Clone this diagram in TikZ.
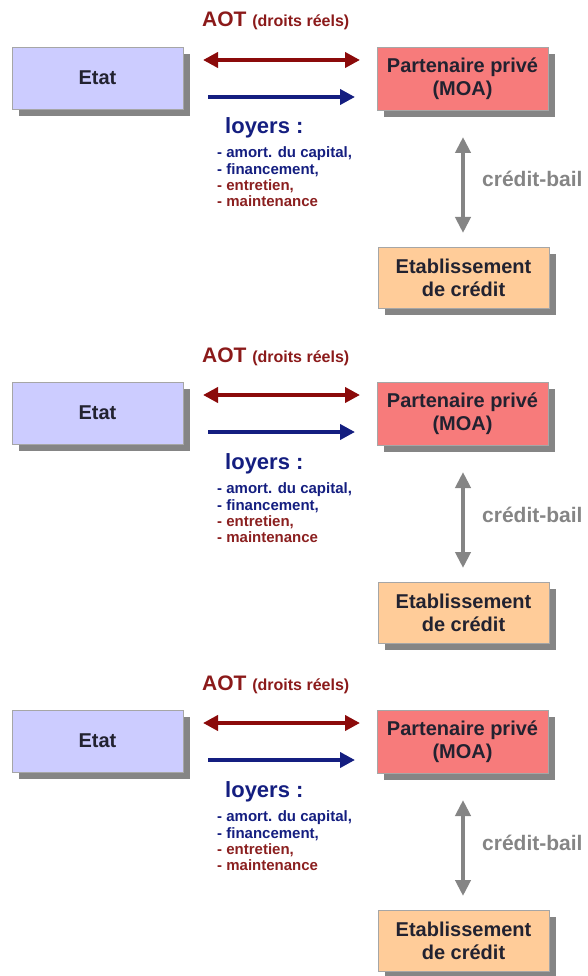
\documentclass[tikz,border=0pt]{standalone}
\usepackage{fontspec}
\setmainfont{Liberation Sans}
\usetikzlibrary{arrows.meta,shadows}
\definecolor{etatfill}{HTML}{CCCCFF}
\definecolor{partfill}{HTML}{F77B7B}
\definecolor{etabfill}{HTML}{FFCC99}
\definecolor{aotred}{HTML}{8B1A1A}
\definecolor{arrred}{HTML}{8B0A0A}
\definecolor{navyblue}{HTML}{141E80}
\definecolor{listred}{HTML}{8B2020}
\definecolor{boxtext}{HTML}{222230}
\definecolor{cbgray}{HTML}{858585}
\begin{document}
\begin{tikzpicture}[x=1pt,y=-1pt,
  box/.style={draw=black!35, line width=0.8pt, minimum width=171pt, inner sep=0pt,
    align=center, text=boxtext, font=\bfseries\fontsize{20}{23}\selectfont,
    drop shadow={shadow xshift=7pt, shadow yshift=-7pt, fill=black!48, opacity=1}},
  lbl/.style={anchor=base west, inner sep=0pt, font=\bfseries},
  redflow/.style={draw=arrred, line width=4pt,
    {Triangle[length=15pt,width=15pt]}-{Triangle[length=15pt,width=15pt]}},
  blueflow/.style={draw=navyblue, line width=4pt, -{Triangle[length=15pt,width=15pt]}},
  grayflow/.style={draw=cbgray, line width=4pt,
    {Triangle[length=16pt,width=15pt]}-{Triangle[length=16pt,width=15pt]}}]
\useasboundingbox (0,0) rectangle (588,976);
\foreach \dy/\i in {0/a,335/b,663/c}{
\begin{scope}[shift={(0,\dy)}]
  \node[box, fill=etatfill, minimum height=62pt] (etat\i) at (97.5,78) {Etat};
  \node[box, fill=partfill, minimum height=63pt] (part\i) at (462.5,78.5) {Partenaire privé\\(MOA)};
  \node[box, fill=etabfill, minimum height=61pt] (etab\i) at (463.5,277.5) {Etablissement\\de crédit};
  \node[lbl, text=aotred] (aot\i) at (202,27) {\fontsize{21}{21}\selectfont AOT \fontsize{16}{16}\selectfont(droits réels)};
  \coordinate (r1\i) at (203,60);
  \coordinate (r2\i) at (360,60);
  \coordinate (b1\i) at (208,97);
  \coordinate (b2\i) at (355,97);
  \coordinate (g1\i) at (463,137);
  \coordinate (g2\i) at (463,233);
  \draw[redflow] (r1\i) -- (r2\i);
  \draw[blueflow] (b1\i) -- (b2\i);
  \draw[grayflow] (g1\i) -- (g2\i);
  \node[lbl, text=navyblue, font=\bfseries\fontsize{22}{22}\selectfont] (loy\i) at (225,134) {loyers :};
  \node[lbl, text=navyblue, font=\bfseries\fontsize{15}{15}\selectfont] (l1\i) at (217,158) {- amort. du capital,};
  \node[lbl, text=navyblue, font=\bfseries\fontsize{15}{15}\selectfont] (l2\i) at (217,175) {- financement,};
  \node[lbl, text=listred, font=\bfseries\fontsize{15}{15}\selectfont] (l3\i) at (217,191) {- entretien,};
  \node[lbl, text=listred, font=\bfseries\fontsize{15}{15}\selectfont] (l4\i) at (217,207) {- maintenance};
  \node[lbl, text=cbgray, font=\bfseries\fontsize{21}{21}\selectfont] (cb\i) at (482,187) {crédit-bail};
\end{scope}
}
\end{tikzpicture}
\end{document}
